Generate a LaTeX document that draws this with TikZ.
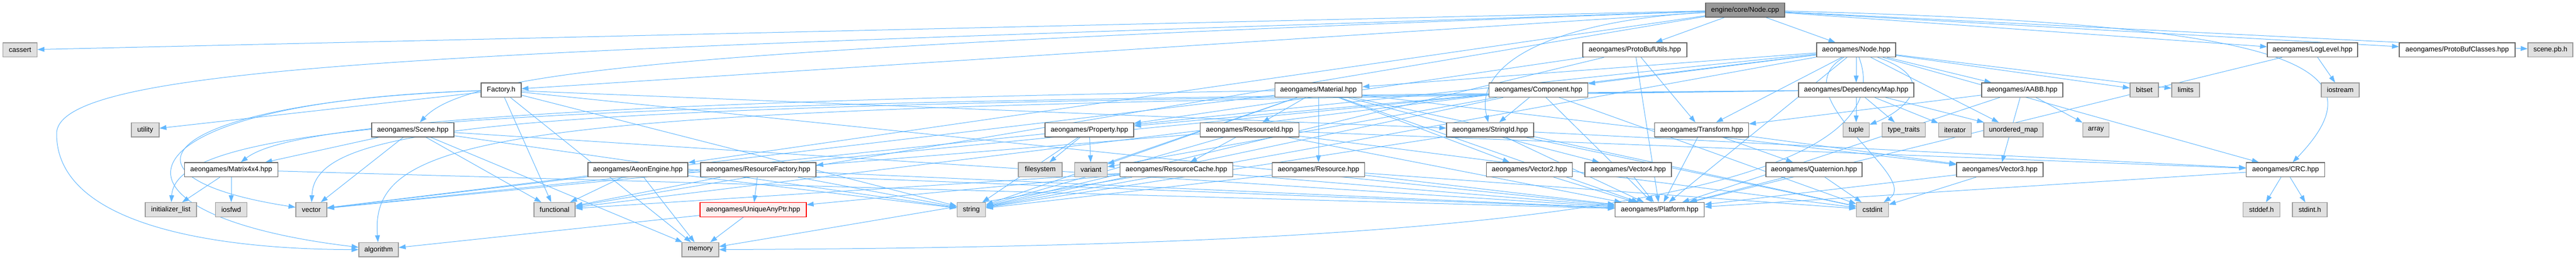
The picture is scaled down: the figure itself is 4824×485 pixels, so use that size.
\documentclass[tikz,border=0pt]{standalone}
\usepackage{fontspec}
\setmainfont{Liberation Sans}
\usepackage{tikz}
\usetikzlibrary{arrows.meta,backgrounds}
\usepackage{xcolor}

\definecolor{depblue}{HTML}{63B8FF}
\definecolor{sysfill}{HTML}{E0E0E0}
\definecolor{sysline}{HTML}{999999}
\definecolor{hdrline}{HTML}{666666}
\definecolor{truncfill}{HTML}{FFF0F0}

\tikzset{
  hdr/.style={draw=hdrline,fill=white,line width=1.2pt,minimum height=26.7pt,inner sep=0pt,font=\fontsize{13}{15}\selectfont},
  sys/.style={hdr,draw=sysline,fill=sysfill},
  rootbox/.style={hdr,fill=sysline,draw=hdrline},
  trunc/.style={hdr,draw=red,fill=truncfill},
  dep/.style={draw=depblue,line width=1pt,-{Triangle[length=13pt,width=9pt]}}
}

\begin{document}
\begin{tikzpicture}[x=1pt,y=-1pt]
\useasboundingbox (0,0) rectangle (4824,485);

% row 0 and 1
\node (root) at (3268,18.7) [rootbox,minimum width=148pt] {engine/core/Node.cpp};
\node (cassert) at (37.5,93.3) [sys,minimum width=64pt] {cassert};
\node (pbu) at (3061.5,93.3) [hdr,minimum width=195pt] {aeongames/ProtoBufUtils.hpp};
\node (nodeh) at (3476,93.3) [hdr,minimum width=148pt] {aeongames/Node.hpp};
\node (loglvl) at (4330.5,93.3) [hdr,minimum width=169pt] {aeongames/LogLevel.hpp};
\node (pbc) at (4601.5,93.3) [hdr,minimum width=217pt] {aeongames/ProtoBufClasses.hpp};
\node (scenepb) at (4776,93.3) [sys,minimum width=84pt] {scene.pb.h};

% row 2
\node (factory) at (938.5,168.3) [hdr,minimum width=75pt] {Factory.h};
\node (material) at (2469,168.3) [hdr,minimum width=163.5pt] {aeongames/Material.hpp};
\node (component) at (2881,168.3) [hdr,minimum width=185pt] {aeongames/Component.hpp};
\node (depmap) at (3476,168.3) [hdr,minimum width=216pt] {aeongames/DependencyMap.hpp};
\node (aabb) at (3787,168.3) [hdr,minimum width=152pt] {aeongames/AABB.hpp};
\node (bitset) at (4015.5,168.3) [sys,minimum width=53pt] {bitset};
\node (limits) at (4093,168.3) [sys,minimum width=52pt] {limits};
\node (iostream) at (4382.5,168.3) [sys,minimum width=71pt] {iostream};

% row 3
\node (utility) at (272,242.7) [sys,minimum width=52pt] {utility};
\node (scene) at (773,242.7) [hdr,minimum width=154pt] {aeongames/Scene.hpp};
\node (property) at (2040,242.7) [hdr,minimum width=166pt] {aeongames/Property.hpp};
\node (resid) at (2340,242.7) [hdr,minimum width=185pt] {aeongames/ResourceId.hpp};
\node (stringid) at (2790.5,242.7) [hdr,minimum width=163pt] {aeongames/StringId.hpp};
\node (transform) at (3186.6,242.7) [hdr,minimum width=176pt] {aeongames/Transform.hpp};
\node (tuple) at (3476,242.7) [sys,minimum width=49pt] {tuple};
\node (typetraits) at (3565,242.7) [sys,minimum width=81.5pt] {type\_traits};
\node (iterator) at (3661,242.7) [sys,minimum width=61pt] {iterator};
\node (umap) at (3770.5,242.7) [sys,minimum width=111pt] {unordered\_map};
\node (array) at (3925,242.7) [sys,minimum width=49.5pt] {array};

% row 4
\node (matrix) at (433,317.3) [hdr,minimum width=174.5pt] {aeongames/Matrix4x4.hpp};
\node (aeon) at (1194.5,317.3) [hdr,minimum width=187pt] {aeongames/AeonEngine.hpp};
\node (resfac) at (1420,317.3) [hdr,minimum width=216pt] {aeongames/ResourceFactory.hpp};
\node (filesystem) at (1948,317.3) [sys,minimum width=82pt] {filesystem};
\node (variant) at (2043,317.3) [sys,minimum width=60.5pt] {variant};
\node (rescache) at (2203,317.3) [hdr,minimum width=211.5pt] {aeongames/ResourceCache.hpp};
\node (resource) at (2469,317.3) [hdr,minimum width=173.5pt] {aeongames/Resource.hpp};
\node (vectwo) at (2864,317.3) [hdr,minimum width=161pt] {aeongames/Vector2.hpp};
\node (vecfour) at (3049,317.3) [hdr,minimum width=162pt] {aeongames/Vector4.hpp};
\node (quat) at (3397,317.3) [hdr,minimum width=180pt] {aeongames/Quaternion.hpp};
\node (vecthree) at (3745,317.3) [hdr,minimum width=162pt] {aeongames/Vector3.hpp};
\node (crc) at (4280,317.3) [hdr,minimum width=147pt] {aeongames/CRC.hpp};

% row 5 and 6
\node (initlist) at (320,392) [sys,minimum width=96pt] {initializer\_list};
\node (iosfwd) at (433,392) [sys,minimum width=59pt] {iosfwd};
\node (vector) at (583,392) [sys,minimum width=58pt] {vector};
\node (functional) at (1038.5,392) [sys,minimum width=77pt] {functional};
\node (uniqueptr) at (1410.5,392) [trunc,minimum width=199pt] {aeongames/UniqueAnyPtr.hpp};
\node (string) at (1819,392) [sys,minimum width=53.5pt] {string};
\node (platform) at (3108,392) [hdr,minimum width=167pt] {aeongames/Platform.hpp};
\node (cstdint) at (3506.5,392) [sys,minimum width=60pt] {cstdint};
\node (stddef) at (4235,392) [sys,minimum width=68.5pt] {stddef.h};
\node (stdint) at (4325.5,392) [sys,minimum width=65pt] {stdint.h};
\node (algorithm) at (709,466.7) [sys,minimum width=74pt] {algorithm};
\node (memory) at (1311.5,466.7) [sys,minimum width=69pt] {memory};

\begin{pgfonlayer}{background}
% Node.cpp
\draw[dep] (root) -- (cassert);
\draw[dep] (root) .. controls (1000,95) and (106,110) .. (106,250) .. controls (106,420) and (400,466) .. (algorithm);
\draw[dep] (root) -- (factory);
\draw[dep] (root) .. controls (1300,90) and (880,130) .. (scene);
\draw[dep] (root) -- (functional);
\draw[dep] (root) -- (aeon);
\draw[dep] (root) -- (pbu);
\draw[dep] (root) -- (nodeh);
\draw[dep] (root) .. controls (2900,40) and (2760,120) .. (stringid);
\draw[dep] (root) -- (loglvl);
\draw[dep] (root) -- (pbc);
\draw[dep] (root) -- (scenepb);
\draw[dep] (root) .. controls (4300,45) and (4470,120) .. (crc);

% Factory.h
\draw[dep] (factory) -- (utility);
\draw[dep] (factory) .. controls (300,190) and (180,330) .. (vector);
\draw[dep] (factory) .. controls (200,190) and (150,400) .. (algorithm);
\draw[dep] (factory) -- (functional);
\draw[dep] (factory) -- (memory);
\draw[dep] (factory) -- (string);
\draw[dep] (factory) -- (stringid);
\draw[dep] (factory) -- (platform);

% Scene.hpp
\draw[dep] (scene) -- (matrix);
\draw[dep] (scene) -- (vector);
\draw[dep] (scene) -- (functional);
\draw[dep] (scene) -- (memory);
\draw[dep] (scene) -- (string);
\draw[dep] (scene) -- (platform);

% ProtoBufUtils.hpp
\draw[dep] (pbu) -- (property);
\draw[dep] (pbu) -- (transform);
\draw[dep] (pbu) -- (platform);
\draw[dep] (pbu) -- (string);

% Node.hpp
\draw[dep] (nodeh) -- (component);
\draw[dep] (nodeh) -- (material);
\draw[dep] (nodeh) -- (transform);
\draw[dep] (nodeh) -- (depmap);
\draw[dep] (nodeh) -- (aabb);
\draw[dep] (nodeh) -- (bitset);
\draw[dep] (nodeh) -- (limits);
\draw[dep] (nodeh) .. controls (3640,150) and (3560,210) .. (tuple);
\draw[dep] (nodeh) -- (umap);
\draw[dep] (nodeh) -- (crc);
\draw[dep] (nodeh) -- (platform);
\draw[dep] (nodeh) .. controls (3330,180) and (3600,330) .. (cstdint);
\draw[dep] (nodeh) -- (string);
\draw[dep] (nodeh) -- (vector);
\draw[dep] (nodeh) -- (functional);
\draw[dep] (nodeh) .. controls (3600,420) and (2400,462) .. (memory);

% LogLevel.hpp
\draw[dep] (loglvl) -- (iostream);
\draw[dep] (loglvl) -- (platform);

% Component.hpp
\draw[dep] (component) -- (stringid);
\draw[dep] (component) -- (property);
\draw[dep] (component) -- (variant);
\draw[dep] (component) -- (platform);
\draw[dep] (component) -- (string);
\draw[dep] (component) -- (vector);
\draw[dep] (component) -- (cstdint);

% Material.hpp
\draw[dep] (material) -- (resid);
\draw[dep] (material) -- (resource);
\draw[dep] (material) -- (variant);
\draw[dep] (material) -- (vectwo);
\draw[dep] (material) -- (vecthree);
\draw[dep] (material) -- (vecfour);
\draw[dep] (material) .. controls (800,195) and (520,250) .. (matrix);
\draw[dep] (material) -- (platform);
\draw[dep] (material) -- (string);
\draw[dep] (material) -- (vector);
\draw[dep] (material) -- (cstdint);

% DependencyMap.hpp
\draw[dep] (depmap) .. controls (1000,190) and (330,220) .. (initlist);
\draw[dep] (depmap) .. controls (1000,195) and (590,220) .. (vector);
\draw[dep] (depmap) .. controls (1000,200) and (690,230) .. (algorithm);
\draw[dep] (depmap) -- (tuple);
\draw[dep] (depmap) -- (typetraits);
\draw[dep] (depmap) -- (iterator);
\draw[dep] (depmap) -- (umap);

% AABB.hpp
\draw[dep] (aabb) -- (transform);
\draw[dep] (aabb) -- (array);
\draw[dep] (aabb) -- (vecthree);
\draw[dep] (aabb) -- (platform);

% Property.hpp
\draw[dep] (property) -- (filesystem);
\draw[dep] (property) -- (variant);
\draw[dep] (property) -- (string);

% ResourceId.hpp
\draw[dep] (resid) -- (resfac);
\draw[dep] (resid) -- (rescache);
\draw[dep] (resid) -- (string);
\draw[dep] (resid) -- (platform);
\draw[dep] (resid) -- (crc);
\draw[dep] (resid) -- (cstdint);

% StringId.hpp
\draw[dep] (stringid) -- (string);
\draw[dep] (stringid) -- (platform);
\draw[dep] (stringid) -- (crc);
\draw[dep] (stringid) -- (cstdint);

% Transform.hpp
\draw[dep] (transform) -- (quat);
\draw[dep] (transform) -- (vecthree);
\draw[dep] (transform) -- (platform);

% Matrix4x4.hpp
\draw[dep] (matrix) -- (initlist);
\draw[dep] (matrix) -- (iosfwd);
\draw[dep] (matrix) -- (platform);

% AeonEngine.hpp
\draw[dep] (aeon) -- (functional);
\draw[dep] (aeon) -- (memory);
\draw[dep] (aeon) -- (vector);
\draw[dep] (aeon) -- (string);
\draw[dep] (aeon) -- (platform);

% ResourceFactory.hpp
\draw[dep] (resfac) -- (uniqueptr);
\draw[dep] (resfac) -- (functional);
\draw[dep] (resfac) -- (string);
\draw[dep] (resfac) -- (platform);

% ResourceCache.hpp
\draw[dep] (rescache) -- (uniqueptr);
\draw[dep] (rescache) -- (memory);
\draw[dep] (rescache) -- (functional);
\draw[dep] (rescache) -- (platform);

% Resource.hpp
\draw[dep] (resource) -- (string);
\draw[dep] (resource) -- (platform);
\draw[dep] (resource) -- (cstdint);

% UniqueAnyPtr.hpp
\draw[dep] (uniqueptr) -- (memory);
\draw[dep] (uniqueptr) -- (algorithm);

% vectors
\draw[dep] (vectwo) -- (platform);
\draw[dep] (vecfour) -- (platform);
\draw[dep] (vecthree) -- (platform);
\draw[dep] (vecthree) -- (cstdint);
\draw[dep] (quat) -- (platform);
\draw[dep] (quat) -- (cstdint);

% CRC.hpp
\draw[dep] (crc) -- (stddef);
\draw[dep] (crc) -- (stdint);
\draw[dep] (crc) -- (platform);
\end{pgfonlayer}

\end{tikzpicture}
\end{document}
